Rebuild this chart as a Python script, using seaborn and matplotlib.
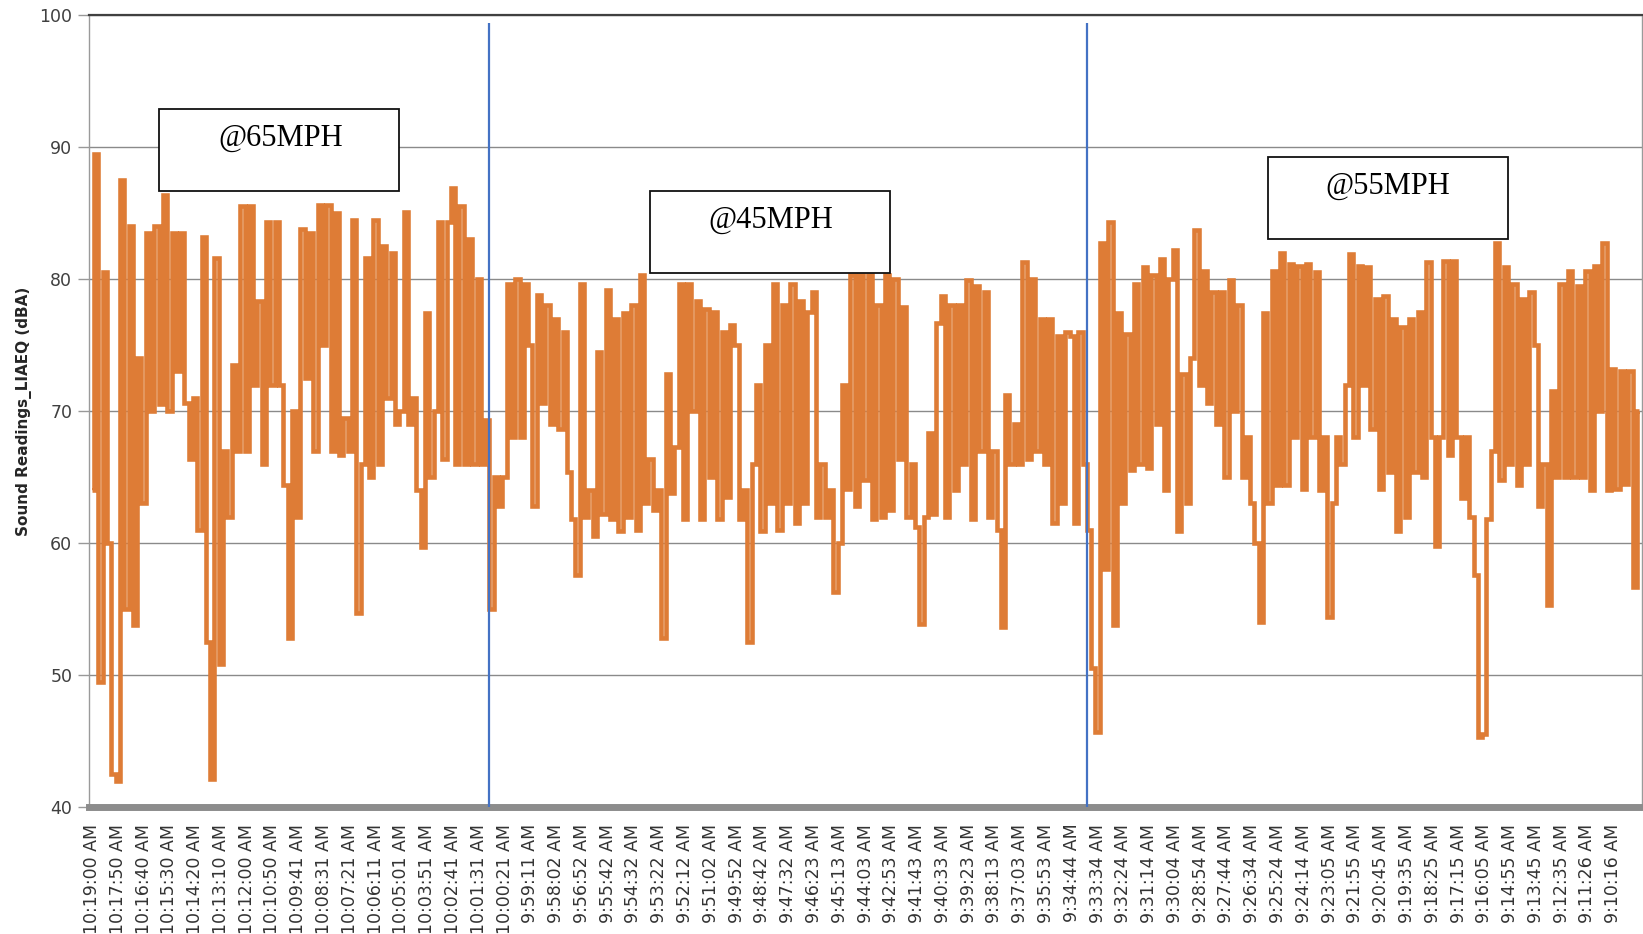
import matplotlib
matplotlib.use("Agg")
import matplotlib.pyplot as plt
import seaborn as sns
import numpy as np
import pandas as pd
from matplotlib.patches import Rectangle

# ---------------- data ----------------
time_labels = [
    "10:19:00 AM", "10:17:50 AM", "10:16:40 AM", "10:15:30 AM", "10:14:20 AM",
    "10:13:10 AM", "10:12:00 AM", "10:10:50 AM", "10:09:41 AM", "10:08:31 AM",
    "10:07:21 AM", "10:06:11 AM", "10:05:01 AM", "10:03:51 AM", "10:02:41 AM",
    "10:01:31 AM", "10:00:21 AM", "9:59:11 AM", "9:58:02 AM", "9:56:52 AM",
    "9:55:42 AM", "9:54:32 AM", "9:53:22 AM", "9:52:12 AM", "9:51:02 AM",
    "9:49:52 AM", "9:48:42 AM", "9:47:32 AM", "9:46:23 AM", "9:45:13 AM",
    "9:44:03 AM", "9:42:53 AM", "9:41:43 AM", "9:40:33 AM", "9:39:23 AM",
    "9:38:13 AM", "9:37:03 AM", "9:35:53 AM", "9:34:44 AM", "9:33:34 AM",
    "9:32:24 AM", "9:31:14 AM", "9:30:04 AM", "9:28:54 AM", "9:27:44 AM",
    "9:26:34 AM", "9:25:24 AM", "9:24:14 AM", "9:23:05 AM", "9:21:55 AM",
    "9:20:45 AM", "9:19:35 AM", "9:18:25 AM", "9:17:15 AM", "9:16:05 AM",
    "9:14:55 AM", "9:13:45 AM", "9:12:35 AM", "9:11:26 AM", "9:10:16 AM",
]

# sound level readings (dBA), 6 samples per label interval
readings_65mph = [
    64, 89.5, 49.5, 80.5, 60, 42.5,
    42, 87.5, 55, 84, 53.8, 74,
    63, 83.5, 70, 84, 70.5, 86.4,
    70, 83.5, 73, 83.5, 70.6, 66.4,
    71, 61, 83.2, 52.5, 42.1, 81.6,
    50.8, 67, 62, 73.5, 67, 85.5,
    67, 85.5, 72, 78.3, 66, 84.3,
    72, 84.3, 72, 64.4, 52.8, 70,
    62, 83.8, 72.5, 83.5, 67, 85.6,
    75, 85.6, 67, 85, 66.7, 69.5,
    67, 84.5, 54.7, 66, 81.6, 65,
    84.5, 66, 82.5, 71, 82, 69,
    70, 85.1, 69, 71, 64, 59.7,
    77.4, 65, 70, 84.3, 66.4, 84.3,
    86.9, 66, 85.5, 66, 83, 66,
    80, 66, 69.3,
]
readings_45mph = [
    55, 65, 62.8,
    65, 79.6, 68, 80, 68, 79.6,
    75, 62.8, 78.8, 70.6, 78, 69,
    77, 68.6, 76, 65.4, 61.8, 57.6,
    79.6, 62, 64, 60.5, 74.5, 62.2,
    79.2, 61.8, 77, 60.9, 77.4, 62,
    78, 61, 80.3, 63, 66.4, 62.5,
    64, 52.8, 72.8, 63.8, 67.3, 79.6,
    61.8, 79.6, 70, 78.3, 61.8, 77.7,
    65, 77.5, 61.8, 76, 63.5, 76.5,
    75, 61.8, 64, 52.5, 66, 72,
    60.9, 75, 63, 79.6, 61, 78,
    63, 79.6, 61.5, 78.3, 63, 77.5,
    79, 62, 66, 62, 64, 56.3,
    60, 72, 64.1, 80.3, 62.8, 80.3,
    64.8, 80.3, 61.8, 78, 62, 80.3,
    62.5, 80, 66.4, 77.9, 62, 66,
    61.2, 53.9, 62, 68.3, 62.2, 76.7,
    78.7, 62, 78, 64, 78, 66,
    79.9, 61.8, 79.5, 67, 79, 62,
    67, 61, 53.6, 71.2, 66, 69,
    66, 81.3, 66.4, 80, 67, 77,
    66, 77, 61.5, 75.7, 63, 76,
    75.7, 61.5, 76, 66,
]
readings_55mph = [
    61, 50.5,
    45.7, 82.7, 58, 84.3, 53.8, 77.4,
    63, 75.8, 65.5, 79.6, 66, 80.9,
    65.7, 80.3, 69, 81.5, 64, 80,
    82.2, 60.9, 72.8, 63, 74, 83.7,
    72, 80.6, 70.6, 79, 69, 79,
    65, 79.9, 70, 78, 65, 68,
    63, 60, 54, 77.4, 63, 80.6,
    64.4, 82, 64.4, 81.1, 68, 81,
    64.1, 81.1, 68, 80.5, 64, 68,
    54.4, 63, 68, 66, 72, 81.9,
    68, 81, 72, 80.9, 68.6, 78.5,
    64.1, 78.7, 65.4, 77, 60.9, 76.4,
    62, 77, 65.4, 77.5, 65, 81.3,
    68, 59.8, 68, 81.4, 66.7, 81.4,
    68, 63.4, 68, 62, 57.6, 45.3,
    45.5, 61.8, 67, 82.7, 64.8, 80.9,
    66, 79.6, 64.4, 78.5, 66, 79,
    75, 62.8, 66, 55.3, 71.5, 65,
    79.6, 65, 80.6, 65, 79.5, 65,
    80.6, 64, 81, 70, 82.7, 64,
    73.2, 64.1, 73, 64.5, 73, 56.7,
    70,
]
speed_labels = ["@65MPH", "@45MPH", "@55MPH"]
samples_per_label = 6
segment_breaks = [92.3, 231.6]   # sample index where the test speed changed

readings = readings_65mph + readings_45mph + readings_55mph
df = pd.DataFrame({"sample": np.arange(len(readings)), "level": readings})

# ---------------- figure ----------------
sns.set_theme(style="white")
plt.rcParams["font.family"] = ["DejaVu Sans"]

W, H = 1643, 934
fig = plt.figure(figsize=(W / 100, H / 100), dpi=100)
ax = fig.add_axes([89 / W, 1 - 807 / H, (1642 - 89) / W, (807 - 15) / H])

ax.yaxis.grid(True, color="#8a8a8a", lw=1.0)
ax.set_axisbelow(True)

sns.lineplot(data=df, x="sample", y="level", ax=ax, color="#DE7C36",
             lw=3.3, drawstyle="steps-mid", solid_joinstyle="miter",
             solid_capstyle="butt", zorder=3)

ax.vlines(segment_breaks, 40, 99.4, color="#4472C4", lw=1.6, zorder=4)

ax.set_ylim(40, 100)
ax.set_xlim(-0.7, len(readings) - 0.3)
ax.set_yticks(range(40, 101, 10))
ax.set_yticklabels([str(v) for v in range(40, 101, 10)], fontsize=12.5, color="#404040")
ax.set_xticks([i * samples_per_label for i in range(len(time_labels))])
ax.set_xticklabels(time_labels, rotation=90, fontsize=12.5, color="#333333")
ax.tick_params(axis="x", length=0, pad=12)
ax.tick_params(axis="y", length=8, width=1, color="#999999", direction="out", pad=4, left=True)

ax.set_xlabel("")
ax.set_ylabel("Sound Readings_LIAEQ (dBA)", fontsize=11, fontweight="bold",
              color="#262626", labelpad=5)

ax.spines["top"].set_color("#404040")
ax.spines["top"].set_linewidth(1.6)
ax.spines["left"].set_color("#9a9a9a")
ax.spines["left"].set_linewidth(1.0)
ax.spines["right"].set_color("#9a9a9a")
ax.spines["right"].set_linewidth(1.0)
ax.spines["bottom"].set_color("#8c8c8c")
ax.spines["bottom"].set_linewidth(5)

# annotation boxes (pixel geometry of the reference)
boxes = [(159, 109, 399, 191, 281, 138),
         (650, 191, 890, 273, 771, 220),
         (1268, 157, 1508, 239, 1388, 186)]
for label, (x0, y0, x1, y1, tx, ty) in zip(speed_labels, boxes):
    rect = Rectangle((x0 / W, 1 - y1 / H), (x1 - x0) / W, (y1 - y0) / H,
                     transform=fig.transFigure, facecolor="white",
                     edgecolor="#111111", lw=1.3, zorder=10)
    fig.add_artist(rect)
    fig.text(tx / W, 1 - ty / H, label, ha="center", va="center",
             fontsize=22, family="Liberation Serif", color="black", zorder=11)

fig.savefig("out.png", dpi=100)
